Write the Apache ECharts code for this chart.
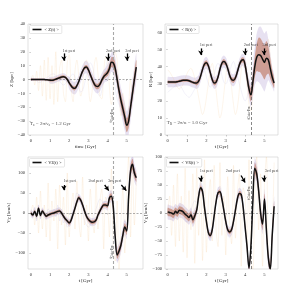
<!DOCTYPE html>
<html><head><meta charset="utf-8">
<script src="https://cdn.jsdelivr.net/npm/echarts@6/dist/echarts.min.js"></script>
<style>html,body{margin:0;padding:0;background:#fff}#c{width:299px;height:294px}</style>
</head><body><div id="c"></div>
<script>
// ---------- data ----------
const time = [0,0.1,0.2,0.3,0.4,0.5,0.6,0.7,0.8,0.9,1.0,1.1,1.2,1.3,1.4,1.5,1.6,1.7,1.8,1.9,2.0,2.1,2.2,2.3,2.4,2.5,2.6,2.7,2.8,2.9,3.0,3.1,3.2,3.3,3.4,3.5,3.6,3.7,3.8,3.9,4.0,4.1,4.2,4.3,4.4,4.5,4.6,4.7,4.8,4.9,5.0,5.1,5.2,5.3,5.4,5.5];
const xTicks = [0,1,2,3,4,5];

// <Z(t)> [kpc]
const zMean = [0,0,0,0,0,0,0,0,-0.2,-0.3, -0.5,-0.5,-0.3,0.2,0.8,1.3,1.8,2.0,1.5,0, -2.5,-4.5,-6,-6.3,-4.5,-1.5,2.5,6,8.5,9, 7,3.5,0,-3,-4.8,-5,-3.5,-0.5,2,3.5, 5,8,12.5,12,8,0,-8,-15,-21,-27, -33,-30,-20,-10,0,9];
const zInner = [0.6,0.6,0.6,0.6,0.6,0.6,0.6,0.6,0.6,0.6, 1,1,1,1,1,1,1,1,1,1, 1.5,1.5,1.5,1.5,1.5,1.5,1.5,1.5,1.5,1.5, 2,2,2,2,2,2,2,2,2,2, 2.5,3,3.5,4,4,4,4.5,5,5,5, 5,5,5,5,5,5];
const zOuter = [1,1,1,1,1,1,1,1,1,1, 2.5,2.5,2.5,2.5,2.5,2.5,2.5,2.5,2.5,2.5, 4.5,4.5,4.5,4.5,4.5,4.5,4.5,4.5,4.5,4.5, 5,5,5,5,5,5,5,5,5,5, 6,6,7,8,8,8,9,9,10,10, 10,10,10,10,10,10];
const zFaintA = [0,3,-4,6,-8,10,-12,14,-15,16, -14,10,-18,20,-16,8,14,-10,-16,12, 18,-6,-16,6,14,2,-12,-6,12,14, -4,-16,-8,10,16,4,-12,-14,4,16, 14,-6,-18,-6,20,14,-12,-26,-10,-20, -36,-20,0,-12,6,14];
const zFaintB = [2,1,0,-1,-2,-2,-1,0,1,2, 3,4,4,3,1,-1,-3,-4,-3,-1, 1,3,4,2,-2,-6,-9,-8,-3,3, 9,12,10,4,-4,-10,-12,-8,0,8, 14,18,16,6,-6,-14,-18,-22,-26,-30, -28,-22,-14,-8,-2,4];
const zTicks = [-40,-30,-20,-10,0,10,20,30,40];

// <R(t)> [kpc]
const rMean = [31,31,31,31,31,31.2,31.5,31.8,32,32, 32,31.8,31.3,30.8,30.5,30.5,31.5,34.5,38.5,41.5, 42.3,40.5,36.5,32.5,30.5,31,34,38.5,42,43, 42,39,35,32.5,32,33.5,37,41,43.5,44, 41,34,27,23.5,31,40,45.5,47,46.5,44.5, 42.5,45,44,39,34,30.5];
const rInner = [0.8,0.8,0.8,0.8,0.8,0.8,0.8,0.8,0.8,0.8, 0.8,0.8,0.8,0.8,0.8,1.5,1.5,1.5,1.5,1.5, 1.5,1.5,1.5,1.5,1.5,1.5,1.5,1.5,1.5,1.5, 1.5,1.5,1.5,1.5,1.5,1.5,1.5,1.5,1.5,1.5, 2.5,3,3.5,4,5,6,8,10,10,10, 10,10,8,6,4,3];
const rOuter = [3,3,3,3,3,3,3,3,3,3, 3,3,3,3,3,3.5,3.5,3.5,3.5,3.5, 3.5,3.5,3.5,3.5,3.5,3.5,3.5,3.5,3.5,3.5, 3.5,3.5,3.5,3.5,3.5,3.5,3.5,3.5,3.5,3.5, 5,5,6,7,9,11,14,16,17,17, 17,16,12,9,6,5];
const rFaintA = [38,37,35,33,30,28,27,28,30,33, 36,38,39,37,33,28,22,16,12,15, 22,30,38,42,36,26,16,10,14,24, 34,42,38,28,18,12,16,26,38,44, 40,28,18,14,24,38,50,56,52,44, 40,50,56,46,36,30];
const rFaintB = [25,26,27,28,29,30,29,28,26,24, 23,22,23,25,27,30,34,38,40,38, 34,30,28,30,35,40,42,40,35,31, 30,32,37,41,43,40,35,30,26,22, 20,22,28,36,44,50,54,55,52,48, 46,48,46,40,34,30];
const rTicks = [0,10,20,30,40,50,60];

// <V_Z(t)> [km/s]
const vzMean = [0,-5,4,-8,12,-6,5,-2,-8,-5, -3,-1,0,2,4,5,0,-8,-15,-20, -25,-18,-3,12,28,38,32,20,5,-8, -16,-21,-23,-22,-18,-5,5,14,20,20, 18,38,42,15,-60,-105,-95,-80,-55,-35, -45,40,105,122,100,88];
const vzInner = [4,4,4,4,4,4,4,4,4,4, 4,4,4,4,4,4,4,4,4,4, 5,5,5,5,5,5,5,5,5,5, 5,5,5,5,5,5,5,5,5,5, 6,7,8,9,10,10,10,10,10,10, 10,12,14,14,12,10];
const vzOuter = [9,9,9,9,9,9,9,9,9,9, 9,9,9,9,9,9,9,9,9,9, 10,10,10,10,10,10,10,10,10,10, 10,10,10,10,10,10,10,10,10,10, 12,14,16,18,20,20,20,20,20,20, 20,22,24,24,22,20];
const vzFaintA = [0,20,-30,40,-50,55,-40,20,-60,75, -70,30,-20,60,-90,70,-30,40,-80,100, -60,10,50,-40,80,-20,-60,90,-30,20, -70,60,-10,-50,80,-40,30,60,-90,40, 20,-60,110,-80,-120,30,-140,-20,60,-100, 40,140,-60,120,-30,80];
const vzFaintB = [5,-10,15,-20,20,-15,10,-5,-15,10, 5,-5,10,-10,20,-20,10,-25,-10,-35, -30,-10,10,30,50,45,25,0,-20,-30, -35,-30,-20,-5,10,25,35,30,25,30, 40,55,50,0,-80,-120,-110,-70,-40,-20, -30,60,130,140,110,80];
const vzTicks = [-100,-50,0,50,100];

// <V_R(t)> [km/s]
const vrMean = [2,1,0,-2,3,0,5,4,2,-2, -5,-8,-3,-12,-5,5,30,45,38,10, -15,-35,-40,-30,-5,20,36,38,25,5, -15,-30,-34,-30,-15,5,25,35,33,10, -25,-60,-98,-60,20,80,70,40,0,-20, 25,-30,-80,-100,-40,12];
const vrInner = [7,7,7,7,7,7,7,7,7,7, 7,7,7,7,7,4,4,4,4,4, 4,4,4,4,4,4,4,4,4,4, 4,4,4,4,4,4,4,4,4,4, 5,6,7,8,10,10,10,10,10,10, 10,10,10,10,10,10];
const vrOuter = [13,13,13,13,13,13,13,13,13,13, 13,13,13,13,13,9,9,9,9,9, 9,9,9,9,9,9,9,9,9,9, 9,9,9,9,9,9,9,9,9,9, 10,12,14,16,18,18,18,18,18,18, 18,18,18,18,18,18];
const vrFaintA = [0,30,-40,50,-60,70,-50,30,-70,80, -80,40,-30,70,-90,80,-40,60,-85,95, -70,20,60,-50,85,-30,-60,90,-40,30, -75,65,-20,-55,85,-45,35,70,-95,45, 30,-70,95,-85,-100,40,100,-30,70,-95, 50,100,-70,-100,-40,90];
const vrFaintB = [8,4,-6,-10,-4,8,14,10,-2,-12, -16,-10,4,16,22,18,40,55,48,20, -10,-40,-50,-38,-8,25,45,48,30,5, -20,-40,-44,-38,-20,8,32,45,40,15, -30,-70,-100,-70,30,90,80,45,5,-30, 30,-40,-90,-100,-50,20];
const vrTicks = [-100,-75,-50,-25,0,25,50,75,100];

// annotations
const periNames = ['1st peri','2nd peri','3rd peri'];
const tEnc = 4.3;
const zArrows  = [[1.72,18.8,1.72,13.5],[4.02,18.8,4.02,13.5],[5.02,18.8,5.02,13.5]];
const zLabels  = [[1.65,20.8],[3.92,20.8],[4.93,20.8]];
const rArrows  = [[1.71,50.7,1.71,46.8],[4.0,50.7,4.0,46.8],[4.98,50.7,4.98,46.8]];
const rLabels  = [[1.65,52.8],[3.93,52.8],[4.9,52.8]];
const vzArrows = [[1.72,70,1.72,57],[3.85,70,4.06,56],[4.72,70,4.98,56]];
const vzLabels = [[1.7,81],[3.0,81],[4.02,81]];
const vrArrows = [[1.71,66.7,1.71,56],[3.79,67,4.0,54.5],[4.98,67,4.98,56]];
const vrLabels = [[1.66,74.5],[3.0,74.5],[5.02,74.5]];
const encLabelPos = [[4.17,-26],[4.17,13],[4.17,-97],[4.17,36]];

// ---------- chart ----------
const FONT = 'Liberation Serif';
const sub = {fontSize:3.6, fontFamily:FONT, verticalAlign:'bottom', padding:[2,0,0,0], color:'#222'};
const minus = v => (v < 0 ? '\u2212' + Math.abs(v) : String(v));

const panels = [
  {grid:{left:28,top:24,width:115,height:111}, x:[-0.15,5.85], y:[-40,40], yTicks:zTicks,
   xName:'time [Gyr]', yName:'Z [kpc]', yGap:9, mean:zMean, inner:zInner, outer:zOuter,
   faint:[zFaintA,zFaintB], zero:true, vColor:'#a8a8a8', vWidth:1.1, legend:'< Z(t) >',
   arrows:zArrows, labels:zLabels, formula:{pos:[-0.05,-32], text:'T{s|z} = 2π/ν{s|z} = 1.2 Gyr'}},
  {grid:{left:165,top:24,width:113,height:111}, x:[-0.14,5.7], y:[0,65], yTicks:rTicks,
   xName:'t [Gyr]', yName:'R [kpc]', yGap:8, mean:rMean, inner:rInner, outer:rOuter,
   faint:[rFaintA,rFaintB], zero:false, vColor:'#555', vWidth:0.7, legend:'< R(t) >',
   arrows:rArrows, labels:rLabels, formula:{pos:[-0.05,7.2], text:'T{s|R} = 2π/κ = 1.0 Gyr'}},
  {grid:{left:28,top:157,width:115,height:112}, x:[-0.15,5.85], y:[-140,140], yTicks:vzTicks,
   xName:'t [Gyr]', yName:'V_Z [km/s]', yGap:16, mean:vzMean, inner:vzInner, outer:vzOuter,
   faint:[vzFaintA,vzFaintB], zero:true, vColor:'#a8a8a8', vWidth:1.1, legend:'< V_Z(t) >',
   arrows:vzArrows, labels:vzLabels},
  {grid:{left:165,top:157,width:113,height:112}, x:[-0.14,5.7], y:[-100,100], yTicks:vrTicks,
   xName:'t [Gyr]', yName:'V_R [km/s]', yGap:16, mean:vrMean, inner:vrInner, outer:vrOuter,
   faint:[vrFaintA,vrFaintB], zero:true, vColor:'#555', vWidth:0.7, legend:'< V_R(t) >',
   arrows:vrArrows, labels:vrLabels}
];

const toRich = s => s.replace(/_(\w)/g, '{s|$1}');
const grids = [], xAxes = [], yAxes = [], series = [], legends = [];
const faintColors = ['#f0b570', '#aaa3da'];
const hidden = {color:'rgba(0,0,0,0)'};

panels.forEach((p, i) => {
  grids.push(Object.assign({show:true, borderColor:'#cfcfcf', borderWidth:0.6, backgroundColor:'#fff', containLabel:false, outerBoundsMode:'none'}, p.grid));
  xAxes.push({type:'value', gridIndex:i, min:p.x[0], max:p.x[1],
    name:p.xName, nameLocation:'middle', nameGap:8,
    nameTextStyle:{fontSize:5, fontFamily:FONT, color:'#222'},
    axisLine:{show:false}, splitLine:{show:false},
    axisTick:{show:true, length:1.5, lineStyle:{color:'#999', width:0.5}, customValues:xTicks},
    axisLabel:{fontSize:4.6, fontFamily:FONT, color:'#333', margin:3, customValues:xTicks, formatter:minus}});
  yAxes.push({type:'value', gridIndex:i, min:p.y[0], max:p.y[1],
    name:toRich(p.yName), nameLocation:'middle', nameGap:p.yGap, nameRotate:90,
    nameTextStyle:{fontSize:5, fontFamily:FONT, color:'#222', rich:{s:sub}},
    axisLine:{show:false}, splitLine:{show:false},
    axisTick:{show:true, length:1.5, lineStyle:{color:'#999', width:0.5}, customValues:p.yTicks},
    axisLabel:{fontSize:4.6, fontFamily:FONT, color:'#333', margin:3, customValues:p.yTicks, formatter:minus}});

  const base = {xAxisIndex:i, yAxisIndex:i, silent:true, animation:false};
  // faint individual trajectories
  p.faint.forEach((arr, k) => {
    series.push(Object.assign({type:'line', name:'faint'+i+'_'+k, smooth:0.35, symbol:'none',
      data:time.map((t, j) => [t, arr[j]]),
      lineStyle:{color:faintColors[k], width:0.4, opacity:0.35}}, base));
  });
  // bands (polygon between mean-w and mean+w)
  [[p.outer, '#c4b3dc', 0.4], [p.inner, '#b45a3a', 0.5]].forEach(([w, col, op], b) => {
    series.push(Object.assign({type:'custom', name:'band'+i+'_'+b, clip:true, z:2,
      data:time.map((t, j) => [t, p.mean[j]]), encode:{x:0, y:1},
      renderItem:(params, api) => {
        if (params.dataIndex !== 0) return null;
        const up = time.map((t, j) => api.coord([t, p.mean[j] + w[j]]));
        const lo = time.map((t, j) => api.coord([t, p.mean[j] - w[j]])).reverse();
        return {type:'polygon', shape:{points:up.concat(lo), smooth:0.25},
          style:{fill:col, opacity:op}};
      }}, base));
  });
  // reference lines
  const ml = [{xAxis:tEnc, lineStyle:{color:p.vColor, width:p.vWidth, type:[3,2]}}];
  if (p.zero) ml.push({yAxis:0, lineStyle:{color:'#777', width:0.6, type:[2,1.5]}});
  // mean line
  series.push(Object.assign({type:'line', name:p.legend, smooth:0.35, symbol:'none',
    data:time.map((t, j) => [t, p.mean[j]]),
    lineStyle:{color:'#111', width:1.5}, itemStyle:{color:'#111'}, z:5,
    markLine:{silent:true, symbol:['none','none'], label:{show:false}, data:ml}}, base));
  // arrows
  series.push(Object.assign({type:'line', name:'arr'+i, data:[], z:6, symbol:'none',
    markLine:{silent:true, symbol:['none','arrow'], symbolSize:[4,4.5], label:{show:false},
      lineStyle:{color:'#000', width:1.3, type:'solid'},
      data:p.arrows.map(a => [{coord:[a[0], a[1]]}, {coord:[a[2], a[3]]}])}}, base));
  // texts
  const txt = p.labels.map((l, k) => ({value:l, name:periNames[k]}));
  series.push(Object.assign({type:'scatter', name:'txt'+i, symbolSize:1, itemStyle:hidden, z:7,
    data:txt, label:{show:true, formatter:'{b}', position:'inside', align:'left', verticalAlign:'middle',
      fontSize:4.3, fontFamily:FONT, color:'#222'}}, base));
  series.push(Object.assign({type:'scatter', name:'enc'+i, symbolSize:1, itemStyle:hidden, z:7,
    data:[{value:encLabelPos[i], name:'enc'}],
    label:{show:true, formatter:'t{s|Gaia-Enc}', rotate:90, position:'inside', align:'center', verticalAlign:'middle',
      fontSize:4.3, fontFamily:FONT, color:'#222', rich:{s:Object.assign({}, sub, {fontSize:3.3})}}}, base));
  if (p.formula) {
    series.push(Object.assign({type:'scatter', name:'frm'+i, symbolSize:1, itemStyle:hidden, z:7,
      data:[{value:p.formula.pos, name:'f'}],
      label:{show:true, formatter:p.formula.text, position:'inside', align:'left', verticalAlign:'middle',
        fontSize:5, fontFamily:FONT, color:'#222', rich:{s:sub}}}, base));
  }
  legends.push({data:[p.legend], left:p.grid.left + 1.5, top:p.grid.top + 1.5,
    orient:'horizontal', padding:[1.5,3,1.5,3], itemWidth:9, itemHeight:1.6, icon:'rect',
    borderColor:'#ccc', borderWidth:0.5, borderRadius:1, backgroundColor:'#fff',
    selectedMode:false, formatter:n => toRich(n),
    textStyle:{fontSize:4.5, fontFamily:FONT, color:'#222', padding:[0,0,0,-2], rich:{s:sub}}});
});

const chart = echarts.init(document.getElementById('c'), null, {renderer:'canvas'});
chart.setOption({animation:false, backgroundColor:'#fff', grid:grids, xAxis:xAxes, yAxis:yAxes,
  legend:legends, series:series});
</script></body></html>
